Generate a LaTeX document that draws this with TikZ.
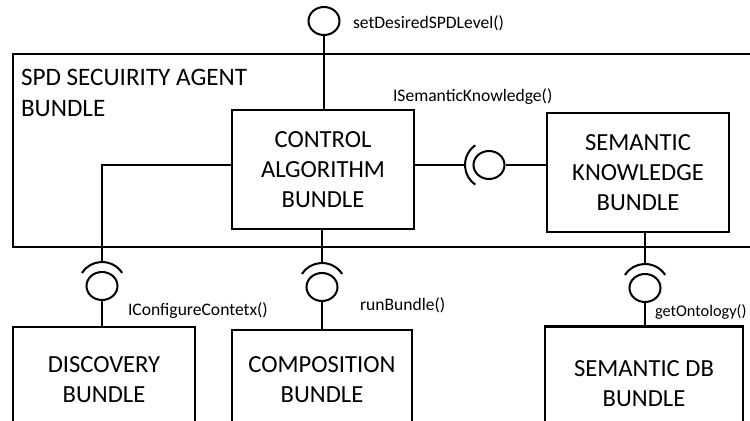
\documentclass[tikz,border=0pt]{standalone}
\usepackage{fontspec}
\setmainfont{Carlito}
\usetikzlibrary{shapes.geometric}
\begin{document}
\begin{tikzpicture}[x=0.02cm,y=-0.02cm,line width=1.15pt,
  bundle/.style={draw,align=center,inner sep=0pt,font=\fontsize{14}{17}\selectfont},
  ball/.style={draw,ellipse,minimum width=0.62cm,minimum height=0.56cm,inner sep=0pt},
  opname/.style={anchor=west,inner sep=0pt,font=\fontsize{10}{12}\selectfont}]
  \useasboundingbox (0,0) rectangle (750,421);
  \clip (0,0) rectangle (750,421);
  \node[draw,minimum width=15.4cm,minimum height=3.86cm] (agent) at (398,150.5) {};
  \node[anchor=north west,align=left,inner sep=0pt,font=\fontsize{14.3}{17.6}\selectfont] (agenttitle) at (20,68) {SPD SECUIRITY AGENT\\BUNDLE};
  \node[bundle,minimum width=3.64cm,minimum height=2.38cm] (control) at (323,169.5) {CONTROL\\ALGORITHM\\BUNDLE};
  \node[bundle,minimum width=3.64cm,minimum height=2.38cm] (knowledge) at (638,172.5) {SEMANTIC\\KNOWLEDGE\\BUNDLE};
  \node[bundle,minimum width=3.64cm,minimum height=2.12cm] (discovery) at (104,380) {DISCOVERY\\BUNDLE};
  \node[bundle,minimum width=3.6cm,minimum height=2cm] (composition) at (322,380) {COMPOSITION\\BUNDLE};
  \node[bundle,minimum width=3.96cm,minimum height=2.3cm] (semdb) at (644,384) {SEMANTIC DB\\BUNDLE};
  \node[ball] (topball) at (324,21) {};
  \node[ball] (linkball) at (489,165) {};
  \node[ball] (discball) at (102,286) {};
  \node[ball] (compball) at (322,287) {};
  \node[ball] (dbball) at (645,288) {};
  \foreach \b in {discball,compball,dbball}
    \draw ([shift={(33:0.48cm)}]\b.center) arc (33:147:0.48cm);
  \draw ([shift={(125:0.48cm)}]linkball.center) arc (125:235:0.48cm);
  \coordinate (discbend) at (102,165);
  \draw (topball.south) -- (topball.south |- control.north);
  \draw (control.west |- discbend) -- (discbend) -- ([yshift=0.48cm]discball.center);
  \draw (discball.south) -- (discball.south |- discovery.north);
  \draw (compball |- control.south) -- ([yshift=0.48cm]compball.center);
  \draw (compball.south) -- (compball.south |- composition.north);
  \draw (dbball |- knowledge.south) -- ([yshift=0.48cm]dbball.center);
  \draw (dbball.south) -- (dbball.south |- semdb.north);
  \draw (control.east |- linkball) -- ([xshift=-0.48cm]linkball.center);
  \draw (linkball.east) -- (linkball.east -| knowledge.west);
  \node[opname] (levelop) at (352,23) {setDesiredSPDLevel()};
  \node[opname] (knowop) at (392,97) {ISemanticKnowledge()};
  \node[opname] (contextop) at (127,311) {IConfigureContetx()};
  \node[opname] (runop) at (359,305) {runBundle()};
  \node[opname,font=\fontsize{9.3}{11}\selectfont] (ontop) at (654,312) {getOntology()};
\end{tikzpicture}
\end{document}
